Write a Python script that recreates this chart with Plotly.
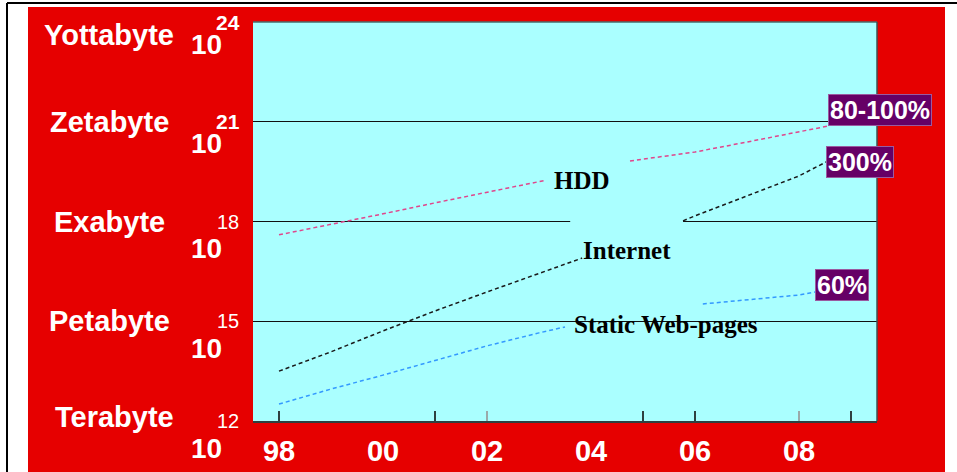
import plotly.graph_objects as go

# ---- data: storage volume as log10(bytes) against year ----
hdd_years = [1998, 1999, 2000, 2001, 2002, 2003, 2003.1, None, 2004.75, 2006, 2007, 2008, 2008.56]
hdd_log = [17.6, 17.91, 18.23, 18.56, 18.87, 19.19, 19.23, None, 19.82, 20.09, 20.39, 20.69, 20.87]

internet_years = [1998, 1999, 2000, 2001, 2002, 2003, 2003.83, None, 2005.77, 2006, 2007, 2008, 2008.52]
internet_log = [13.5, 14.08, 14.71, 15.31, 15.88, 16.45, 16.9, None, 18.02, 18.17, 18.77, 19.37, 19.79]

static_years = [1998, 1999, 2000, 2001, 2002, 2003, 2003.5, None, 2006.15, 2007, 2008, 2008.31]
static_log = [12.51, 12.96, 13.38, 13.83, 14.26, 14.65, 14.83, None, 15.52, 15.64, 15.79, 15.88]

series_names = ["HDD", "Internet", "Static Web-pages"]
growth_labels = ["80-100%", "300%", "60%"]

unit_names = ["Terabyte", "Petabyte", "Exabyte", "Zetabyte", "Yottabyte"]
unit_exponents = [12, 15, 18, 21, 24]

year_ticks = [1998, 2000, 2002, 2004, 2006, 2008]
year_labels = ["98", "00", "02", "04", "06", "08"]
tick_marks_dark = [1998, 2001, 2005, 2006, 2009]
tick_marks_light = [2002, 2008]

# ---- styling ----
W, H = 957, 472
ML, MR, MT, MB = 253, 80, 22, 51
PW, PH = W - ML - MR, H - MT - MB
RED = "#E60000"
CYAN = "#AAFFFF"
PURPLE = "#660066"
SANS = "Liberation Sans, Arial, sans-serif"
SERIF = "Liberation Serif, Times New Roman, serif"
X_RANGE = [1997.5, 2009.5]
Y_RANGE = [12, 24]


def px_x(p):
    return (p - ML) / PW


def px_y(p):
    return (H - MB - p) / PH


fig = go.Figure()

line_styles = [
    (hdd_years, hdd_log, "#E0468C"),
    (internet_years, internet_log, "#1a1a1a"),
    (static_years, static_log, "#3399FF"),
]
for (xs, ys, col), name in zip(line_styles, series_names):
    fig.add_trace(go.Scatter(
        x=xs, y=ys, mode="lines", name=name, connectgaps=False,
        line=dict(color=col, width=1.5, dash="4px,3px"),
        hoverinfo="skip", showlegend=False,
    ))

# empty traces so the overlay axes that carry the tick marks get drawn
fig.add_trace(go.Scatter(x=[], y=[], xaxis="x2", yaxis="y", showlegend=False))
fig.add_trace(go.Scatter(x=[], y=[], xaxis="x3", yaxis="y", showlegend=False))

annotations = []

# series captions
caption_pos = [(2003.82, 19.22), (2004.69, 17.14), (2005.44, 14.89)]
for name, (cx, cy) in zip(series_names, caption_pos):
    annotations.append(dict(
        x=cx, y=cy, xref="x", yref="y", text=name, showarrow=False,
        xanchor="center", yanchor="middle",
        font=dict(family=SERIF, size=25, color="black", weight="bold"),
    ))

# growth-rate boxes attached to the end of each line
box_anchor = [("bottom", 0), ("middle", 0), ("middle", 7)]
for (xs, ys, _), label, (ya, ys_shift) in zip(line_styles, growth_labels, box_anchor):
    annotations.append(dict(
        x=xs[-1], y=ys[-1], xref="x", yref="y", text=label, showarrow=False,
        xanchor="left", yanchor=ya, yshift=ys_shift,
        bgcolor=PURPLE, bordercolor="#9A5AA0", borderwidth=1, borderpad=1,
        font=dict(family=SANS, size=25, color="white", weight="bold"),
    ))

# unit names and powers of ten along the left
for name, exp in zip(unit_names, unit_exponents):
    top = exp == Y_RANGE[1]
    bottom = exp == Y_RANGE[0]
    annotations.append(dict(
        x=0, y=exp, xref="paper", yref="y",
        xshift=-139 if bottom else -144, yshift=-13 if top else (4 if bottom else 0),
        xanchor="center", yanchor="middle",
        text=name, showarrow=False,
        font=dict(family=SANS, size=29, color="white", weight="bold"),
    ))
    annotations.append(dict(
        x=0, y=exp, xref="paper", yref="y", xshift=-47, yshift=-22 if exp > 18 else -27,
        xanchor="center", yanchor="middle",
        text="10", showarrow=False,
        font=dict(family=SANS, size=28, color="white", weight="bold"),
    ))
    annotations.append(dict(
        x=0, y=exp, xref="paper", yref="y", xshift=-25, yshift=0,
        xanchor="center", yanchor="middle",
        text=str(exp), showarrow=False,
        font=dict(family=SANS, size=21 if exp > 18 else 20, color="white",
                  weight="bold" if exp > 18 else "normal"),
    ))

shapes = [
    # white page margins around the red panel
    dict(type="rect", xref="paper", yref="paper", x0=px_x(0), x1=px_x(W), y0=px_y(0), y1=px_y(7),
         fillcolor="white", line_width=0, layer="below"),
    dict(type="rect", xref="paper", yref="paper", x0=px_x(0), x1=px_x(28), y0=px_y(0), y1=px_y(H),
         fillcolor="white", line_width=0, layer="below"),
    dict(type="rect", xref="paper", yref="paper", x0=px_x(945), x1=px_x(W), y0=px_y(0), y1=px_y(H),
         fillcolor="white", line_width=0, layer="below"),
    # page frame lines
    dict(type="line", xref="paper", yref="paper", x0=px_x(7), x1=px_x(W), y0=px_y(3), y1=px_y(3),
         line=dict(color="black", width=2)),
    dict(type="line", xref="paper", yref="paper", x0=px_x(7), x1=px_x(7), y0=px_y(3), y1=px_y(H),
         line=dict(color="black", width=2)),
    # plot frame (top and right)
    dict(type="line", xref="paper", yref="paper", x0=0, x1=1, y0=1, y1=1,
         line=dict(color="#4a6a6a", width=1.5)),
    dict(type="line", xref="paper", yref="paper", x0=1, x1=1, y0=0, y1=1,
         line=dict(color="#3a5555", width=1.5)),
    # faded stretch of the 10^18 rule
    dict(type="rect", xref="x", yref="y", x0=2003.6, x1=2005.77, y0=17.9, y1=18.1,
         fillcolor=CYAN, line_width=0, layer="between"),
]

fig.update_layout(
    width=W, height=H,
    margin=dict(l=ML, r=MR, t=MT, b=MB, pad=0),
    paper_bgcolor=RED, plot_bgcolor=CYAN,
    showlegend=False,
    xaxis=dict(
        range=X_RANGE, tickvals=year_ticks, ticktext=year_labels, ticks="",
        ticklabelstandoff=3,
        tickfont=dict(family=SANS, size=29, color="white", weight="bold"),
        showgrid=False, zeroline=False, showline=True, linecolor="#2e4040", linewidth=2,
        automargin=False, fixedrange=True,
    ),
    xaxis2=dict(
        range=X_RANGE, overlaying="x", anchor="y", side="bottom",
        tickvals=tick_marks_dark, ticks="inside", ticklen=10, tickwidth=2, tickcolor="#2e4040",
        showticklabels=False, showgrid=False, zeroline=False, showline=False, automargin=False,
    ),
    xaxis3=dict(
        range=X_RANGE, overlaying="x", anchor="y", side="bottom",
        tickvals=tick_marks_light, ticks="inside", ticklen=10, tickwidth=1.5, tickcolor="#9aaaaa",
        showticklabels=False, showgrid=False, zeroline=False, showline=False, automargin=False,
    ),
    yaxis=dict(
        range=Y_RANGE, tickvals=unit_exponents, showticklabels=False, ticks="",
        showgrid=True, gridcolor="#111111", gridwidth=1,
        zeroline=False, showline=False, automargin=False, fixedrange=True,
    ),
    annotations=annotations,
    shapes=shapes,
)

fig.write_html("out.html")
